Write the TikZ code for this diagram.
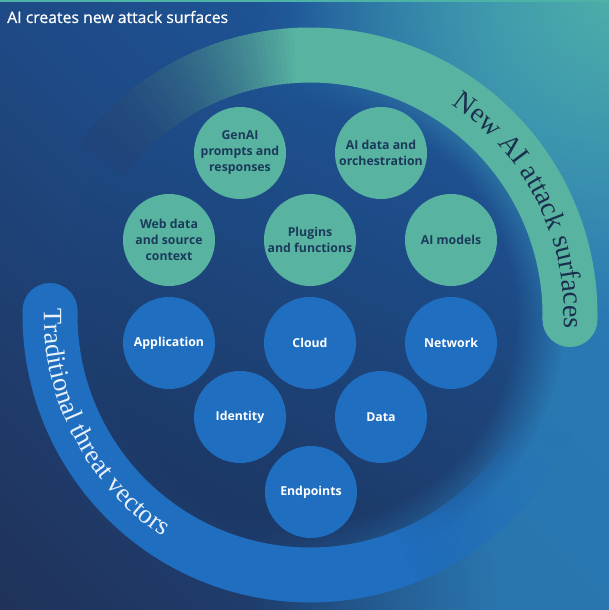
\documentclass[tikz,border=0pt]{standalone}
\usepackage{fontspec}
\setmainfont{Open Sans}
\newfontfamily\circfont{Open Sans}
\newfontfamily\titlefont[FakeBold=0.6]{Open Sans}
\newfontfamily\arcfont{Liberation Serif}
\usetikzlibrary{decorations.text,fadings,calc}

\definecolor{bg0}{HTML}{1F2F54}
\definecolor{bg1}{HTML}{1F3259}
\definecolor{bg2}{HTML}{1E4A86}
\definecolor{bg3}{HTML}{1F5EA5}
\definecolor{bg4}{HTML}{3E9EB3}
\definecolor{rightblue}{HTML}{2E86BE}
\definecolor{glowteal}{HTML}{4EB0A8}
\definecolor{innerTop}{HTML}{1E5496}
\definecolor{innerBot}{HTML}{1C3560}
\definecolor{tealfill}{HTML}{58B4A1}
\definecolor{tailEnd}{HTML}{20457C}
\definecolor{bluefill}{HTML}{1F6EC0}
\definecolor{tealtext}{HTML}{1B3A5B}
\definecolor{arctealtext}{HTML}{1B2F4E}
\definecolor{arcbluetext}{HTML}{E8F0FA}
\definecolor{topline}{HTML}{4DB3A6}

\pgfdeclarehorizontalshading{bgshade}{100bp}{color(0bp)=(bg0); color(25bp)=(bg1); color(50bp)=(bg2); color(75bp)=(bg3); color(100bp)=(bg4)}
\tikzfading[name=fadeR, left color=transparent!100, right color=transparent!0]
\tikzfading[name=radfade, inner color=transparent!0, outer color=transparent!100]

\tikzset{
  circnode/.style={circle, minimum size=92pt, inner sep=0pt, align=center,
    font=\circfont\bfseries\fontsize{12.3}{16}\selectfont},
  tealc/.style={circnode, fill=tealfill, text=tealtext},
  bluec/.style={circnode, fill=bluefill, text=white},
  tealband/.style={draw=tealfill, line width=55pt},
  blueband/.style={draw=bluefill, line width=55pt},
}

\begin{document}
\begin{tikzpicture}[x=1pt,y=1pt]
\useasboundingbox (0,0) rectangle (609,610);
\begin{scope}
\clip (0,0) rectangle (609,610);
% background: diagonal gradient, dark bottom-left to light top-right
\begin{scope}[transform canvas={rotate around={45:(304.5,305)}}]
  \shade[shading=bgshade] (-126.5,-126) rectangle (735.5,736);
\end{scope}
\fill[rightblue, path fading=fadeR, opacity=0.75] (250,0) rectangle (500,610);
\fill[rightblue, opacity=0.75] (499.5,0) rectangle (609,610);
\fill[glowteal, path fading=radfade, opacity=0.95] (609,610) circle (320);
\fill[topline] (0,607.5) rectangle (609,610);

\coordinate (C) at (310,295);
% inner disk (soft edge)
\shade[top color=innerTop, bottom color=innerBot, shading angle=-25,
  path fading=circle with fuzzy edge 20 percent] (C) circle (255);

% teal arc (new AI attack surfaces), fading tail drawn end first
\foreach \i in {50,49,...,0}{
  \pgfmathsetmacro\a{92+\i}
  \pgfmathtruncatemacro\p{100*(1-\i/50)^1.9}
  \draw[line width=55pt, draw=tealfill!\p!tailEnd] ($(C)+(\a:260)$) arc[start angle=\a, end angle=\a+1.4, radius=260];
}
\draw[tealband] ($(C)+(-1:260)$) arc[start angle=-1, end angle=92.3, radius=260];
\fill[tealfill] ($(C)+(-1:260)$) circle (27.5);

% blue arc (traditional threat vectors)
\draw[blueband] ($(C)+(179:260)$) arc[start angle=179, end angle=290.2, radius=260];
\fill[bluefill] ($(C)+(179:260)$) circle (27.5);
\foreach \i in {0,...,29}{
  \pgfmathsetmacro\a{290+1.5*\i}
  \pgfmathsetmacro\op{(1-\i/30)^1.2}
  \draw[blueband, draw opacity=\op] ($(C)+(\a:260)$) arc[start angle=\a, end angle=\a+1.5, radius=260];
}
\end{scope}

% arc labels
\path[decorate, decoration={text along path, text align=center,
  text={|\arcfont\fontsize{28}{28}\selectfont\color{arctealtext}|New AI attack surfaces}}]
  ($(C)+(62:254)$) arc[start angle=62, end angle=-9, radius=254];
\path[decorate, decoration={text along path, text align=center,
  text={|\arcfont\fontsize{26.5}{26.5}\selectfont\color{arcbluetext}|Traditional threat vectors}}]
  ($(C)+(172:266)$) arc[start angle=172, end angle=243, radius=266];

% title
\node[anchor=base west, inner sep=0pt, text=white, font=\titlefont\fontsize{15.8}{18}\selectfont] (title) at (7,587) {AI creates new attack surfaces};

% AI circles
\node[tealc] (genai) at (240,457) {GenAI\\prompts and\\responses};
\node[tealc] (aidata) at (381,457) {AI data and\\orchestration};
\node[tealc] (web) at (169,370) {Web data\\and source\\context};
\node[tealc] (plugins) at (310,370) {Plugins\\and functions};
\node[tealc] (aimodels) at (451,370) {AI models};

% traditional circles
\node[bluec] (app) at (169,267) {Application};
\node[bluec] (cloud) at (310,267) {Cloud};
\node[bluec] (network) at (451,267) {Network};
\node[bluec] (identity) at (240,193) {Identity};
\node[bluec] (data) at (381,193) {Data};
\node[bluec] (endpoints) at (311,118) {Endpoints};
\end{tikzpicture}
\end{document}
